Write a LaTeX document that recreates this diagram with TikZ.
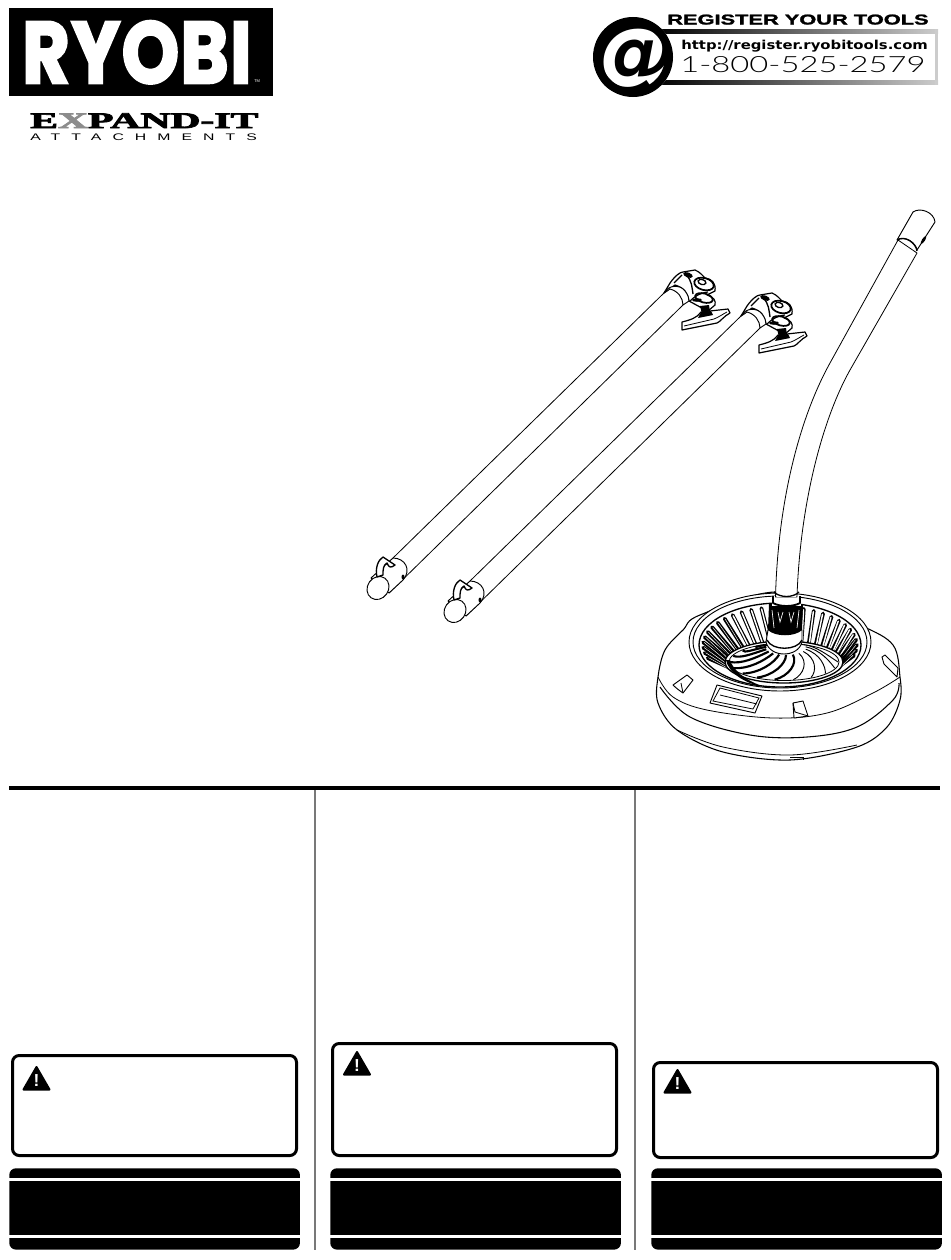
\documentclass[tikz,border=0pt]{standalone}
\usepackage{graphicx}
\usepackage{fontspec}
\setmainfont{Liberation Sans}
\newfontfamily\logofont[FakeBold=3,LetterSpace=2]{Poppins}
\newfontfamily\slabfont[FakeBold=3]{Liberation Serif}
\newfontfamily\headfont[FakeBold=1.5]{Liberation Sans}
\newfontfamily\wideface[LetterSpace=70]{Liberation Sans}
\newfontfamily\atfont{DejaVu Sans}
\newfontfamily\phonefont{Lato Light}
\usetikzlibrary{positioning}
\definecolor{rulegray}{RGB}{120,120,120}
\definecolor{xgray}{RGB}{140,140,140}
% one unit of the picture is one pixel of the reference
\newcommand{\fitword}[3]{\resizebox{#1pt}{#2pt}{#3}}

\begin{document}
\begin{tikzpicture}[
    x=0.75pt, y=-0.75pt,
    logotext/.style={inner sep=0pt, anchor=base west},
    outline/.style={draw=black, fill=white, line width=0.7pt, line join=round},
    thinline/.style={draw=black, line width=0.6pt},
    warnbox/.style={rectangle, rounded corners=5pt, draw=black, line width=2.25pt, fill=white,
                    minimum width=213pt, inner sep=0pt, anchor=north west},
    blackbar/.style={rectangle, rounded corners=5pt, fill=black, minimum width=218pt,
                     minimum height=61pt, inner sep=0pt, anchor=north west},
    whitestrip/.style={rectangle, fill=white, minimum width=218pt, minimum height=2.2pt,
                       inner sep=0pt, anchor=north west},
    warnmark/.style={draw=black, fill=black, line width=1.5pt, line join=round}
]
\useasboundingbox (0,0) rectangle (950,1260);

% logo, top left
\node[rectangle, fill=black, minimum width=198pt, minimum height=65.5pt, inner sep=0pt,
      anchor=north west] (logobox) at (9,8) {};
\node[logotext, text=white] (ryobi) at (22,83) {\fitword{172}{46.5}{\logofont\bfseries RYOBI}};
\node[logotext, text=white, font=\fontsize{3}{3}\selectfont] (tm) at (254,82) {TM};
\node[logotext] (expand) at (30,128) {\fitword{171}{11}{\slabfont\bfseries E\textcolor{xgray}{X}PAND-IT}};
\node[logotext] (attach) at (30,140) {\fitword{170}{5}{\wideface ATTACHMENTS}};

% register banner, top right
\shade[left color=black, middle color=black!70, right color=black!20] (655,29) rectangle (938,33.5);
\shade[left color=black, middle color=black!70, right color=black!20] (655,80) rectangle (938,84.5);
\fill[black!20] (935,29) rectangle (938,84.5);
\node[circle, fill=white, minimum size=60pt, inner sep=0pt] (atback) at (633,57) {};
\node[inner sep=0pt] (atsign) at (634,58) {\resizebox{63pt}{!}{\atfont\bfseries\itshape @}};
\draw[black, line width=6pt] (atback.center) circle (36);
\node[logotext] (register) at (667,24.5) {\fitword{196}{7.5}{\headfont\bfseries REGISTER YOUR TOOLS}};
\node[logotext] (website) at (681,49) {\fitword{185}{7}{\atfont\bfseries http://register.ryobitools.com}};
\node[logotext] (phone) at (680,72) {\fitword{184}{12}{\phonefont 1-800-525-2579}};

% the two straight poles
\foreach \dx/\dy in {0/0,77/23}{
  \begin{scope}[shift={(\dx,\dy)}]
    \draw[thinline] (393,558) -- (665,292);
    \draw[thinline] (389,593) -- (683,305);
    % lower end
    \draw[outline] (371,578) -- (393,558) .. controls (405,558) and (412,570) .. (403,580) -- (389,593) -- cycle;
    \draw[outline, rotate around={-35:(378,588)}] (378,588) ellipse (10.5 and 12);
    \draw[outline, line width=1pt] (377,577) .. controls (375,568) and (378,560) .. (383,557) -- (395,565)
      .. controls (391,568) and (389,568) .. (387,563) .. controls (383,565) and (383,570) .. (383,575) -- cycle;
    \fill (403,577) ellipse (1.5 and 2.5);
    % clamp head
    \draw[outline, line width=0.9pt] (664,293) -- (670,283) .. controls (675,276) and (680,272) .. (683,272) -- (695,270)
      .. controls (700,272) and (703,276) .. (705,278) .. controls (712,279) and (716,283) .. (715,291)
      -- (707,295) .. controls (714,297) and (716,301) .. (715,305) -- (708,311) -- (700,307) -- (689,301)
      .. controls (688,294) and (685,288) .. (675,285) -- cycle;
    \draw[outline] (664,293) .. controls (668,285) and (680,284) .. (685,291) .. controls (688,295) and (689,298) .. (689,301)
      -- (683,305) .. controls (683,298) and (678,291) .. (670,289) -- cycle;
    \draw[black, line width=1.3pt, rotate around={-15:(704,284)}] (704,284) ellipse (10 and 6);
    \draw[black, line width=1pt, rotate around={-15:(702,282)}] (702,282) ellipse (4 and 2.5);
    \draw[black, line width=1.3pt, rotate around={-15:(704,298)}] (704,298) ellipse (9 and 4.5);
    \draw[black, line width=0.9pt] (690,301) .. controls (695,296) and (700,293) .. (708,292);
    \draw[black, line width=1pt] (674,283) -- (682,275) (686,275) .. controls (692,280) and (692,288) .. (693,294);
    \fill[rotate around={-20:(688,275)}] (688,275) ellipse (5 and 2.5);
    \fill (697,300) ellipse (5 and 1.8);
    \fill (700,306) -- (709,305) -- (710,312) -- (702,314) -- cycle;
    \draw[outline, line width=0.9pt] (682,322) .. controls (690,320) and (697,318) .. (701,312) -- (710,311) -- (728,309)
      -- (730,313) .. controls (724,316) and (720,322) .. (717,323) -- (682,330) -- cycle;
    \draw[thinline] (684,326) -- (714,319) .. controls (719,317) and (723,314) .. (727,312);
    \fill (701,312) -- (711,311) -- (713,315) -- (698,318) -- cycle;
  \end{scope}
}

% round head, body first and then what sits in it
\draw[outline, line width=0.8pt] plot[smooth cycle, tension=0.55] coordinates {(658,677) (665,650) (683,630) (700,615)
  (780,592) (860,625) (893,645) (900,677) (900,700) (887,727) (857,747) (790,760) (723,752) (677,730) (658,703)};
\draw[thinline] plot[smooth, tension=0.6] coordinates {(658,677) (673,697) (707,710) (773,718) (827,713) (873,693) (900,677)};
\draw[thinline, line width=0.8pt] plot[smooth, tension=0.6] coordinates {(660,687) (690,717) (750,735) (807,737) (857,727) (893,700) (899,683)};
\draw[thinline] plot[smooth, tension=0.6] coordinates {(677,730) (723,747) (790,755) (857,745)};
\draw[thinline] (790,757) -- (803,757) -- (803,760);

\draw[outline] (780,642) ellipse (91 and 49);
\draw[outline] (780,642) ellipse (87 and 46);
\draw[outline, line width=1pt] (780,645) ellipse (81 and 42);

% fins in the funnel
\foreach \a in {160,168,...,380}{
  \pgfmathsetmacro{\core}{(\a<225 || \a>345) ? 0.35 : 1.1}
  \draw[black, line width=2.8pt, line cap=round]
    ({780+77*cos(\a)},{645+38*sin(\a)}) -- ({784+56*cos(\a)},{662+19*sin(\a)});
  \draw[white, line width=\core pt, line cap=round]
    ({780+76*cos(\a)},{645+37*sin(\a)}) -- ({784+58*cos(\a)},{662+21*sin(\a)});
}
\draw[outline, line width=1pt] (784,662) ellipse (59 and 21);
\fill[black] (726,660) .. controls (728,672) and (745,684) .. (762,686) .. controls (745,680) and (733,670) .. (730,660) -- cycle;
\draw[thinline] (784,662) ellipse (55 and 18.5);
\foreach \a in {-30,-10,...,210}{
  \pgfmathsetmacro{\blade}{(\a<70) ? 0.7 : 1.6}
  \draw[black, line width=\blade pt]
    ({786+20*cos(\a)},{648+7*sin(\a)}) .. controls ({786+35*cos(\a)},{652+12*sin(\a)}) and
    ({785+45*cos(\a+15)},{660+16*sin(\a+15)}) .. ({784+54*cos(\a+30)},{662+18*sin(\a+30)});
}

% hub and collar
\draw[outline] (768,630) -- (766,642) .. controls (770,658) and (798,658) .. (802,642) -- (802,630) -- cycle;
\draw[thinline, line width=1pt] (767,640) .. controls (772,651) and (797,651) .. (802,640);
\fill[black] (769,604) -- (803,604) -- (802,630) .. controls (795,637) and (775,637) .. (768,630) -- cycle;
\draw[white, line width=0.5pt] (778,612) -- (780,622) -- (783,612) (789,612) -- (791,622) -- (794,612) (772,610) -- (774,628) (799,610) -- (797,628);
\fill[white] (772,602) rectangle (801,606);
\draw[outline, line width=1.4pt] (773,596) -- (773,603) .. controls (780,607) and (793,607) .. (800,603) -- (800,596);

% bent tube
\draw[outline, line width=0.6pt] (898,240) -- (830,363) .. controls (800,417) and (778,500) .. (775.5,597)
  -- (797,597) .. controls (800,505) and (822,420) .. (850,370) -- (917,253) -- cycle;
\draw[white, line width=1.2pt] (776.5,596.5) -- (796,596.5);
\draw[thinline, line width=1pt] (774,592) .. controls (780,598) and (793,598) .. (799,592);
\draw[outline] (897,240) -- (913,212) .. controls (920,207) and (934,212) .. (935,222) -- (917,250)
  .. controls (916,243) and (905,235) .. (897,240) -- cycle;
\draw[thinline, line width=1pt] (897,240) .. controls (905,235) and (916,243) .. (917,251);
\fill[rotate around={57:(923.5,240)}] (923.5,240) ellipse (4.5 and 1.5);

% window and clips on the head
\draw[outline] (717,685) -- (762,696) -- (755,713) -- (710,703) -- cycle;
\draw[thinline] (720,688) -- (759,698) -- (753,709) -- (713,701) -- cycle;
\draw[thinline] (720,695) -- (757,704);
\draw[outline] (673,685) -- (687,675) -- (693,680) -- (683,693) .. controls (680,691) and (676,688) .. (673,685) -- cycle;
\draw[thinline] (681,683) -- (683,693);
\draw[outline] (793,703) -- (803,701) -- (808,716) -- (794,718) -- cycle;
\draw[thinline] (793,703) -- (795,712) -- (808,716);
\draw[outline] (882,657) -- (885,655) -- (898,668) -- (897,677) -- (884,664) -- cycle;

% rules
\draw[black, line width=2.3pt] (9,788) -- (940,788);
\draw[rulegray, line width=1.5pt] (315,790) -- (315,1250);
\draw[rulegray, line width=1.5pt] (635,790) -- (635,1250);

% warning boxes
\node[warnbox, minimum height=75pt] (warnA) at (11,1054) {};
\node[warnbox, minimum height=84pt] (warnB) at (331,1042) {};
\node[warnbox, minimum height=71.25pt] (warnC) at (652,1061) {};
\foreach \tx/\ty in {36.5/1067,357/1052,677.5/1070}{
  \draw[warnmark] (\tx,\ty) -- (\tx+13,\ty+22.5) -- (\tx-13,\ty+22.5) -- cycle;
  \node[text=white, font=\bfseries\fontsize{13}{13}\selectfont, inner sep=0pt] at (\tx,\ty+13.5) {!};
}

% black bars
\node[blackbar] (barA) at (9,1168) {};
\node[blackbar] (barB) at (330,1168) {};
\node[blackbar] (barC) at (651,1168) {};
\foreach \bx in {9,330,651}{
  \node[whitestrip] at (\bx,1178) {};
  \node[whitestrip] at (\bx,1235) {};
}

\end{tikzpicture}
\end{document}
